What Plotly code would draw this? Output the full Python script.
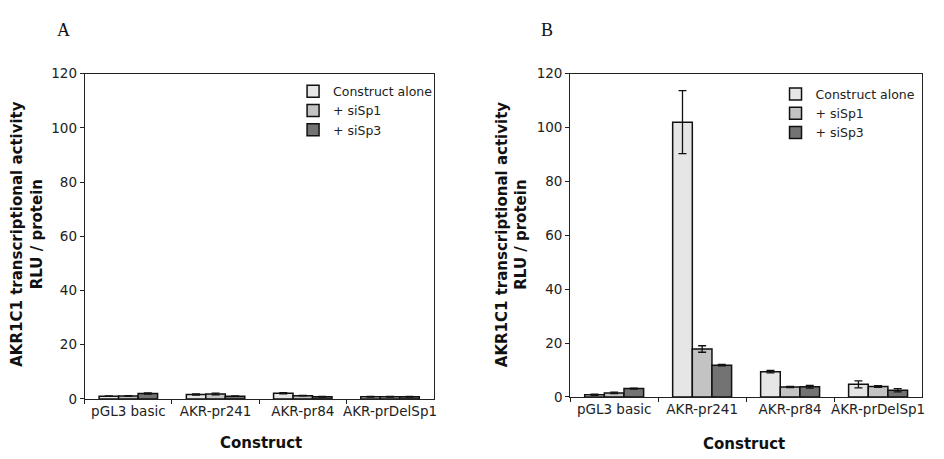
import plotly.graph_objects as go

constructs = ["pGL3 basic", "AKR-pr241", "AKR-pr84", "AKR-prDelSp1"]
series_names = ["Construct alone", "+ siSp1", "+ siSp3"]
series_colors = ["#e6e6e6", "#c3c3c3", "#737373"]

# Panel A: RLU / protein
a_alone = [1.0, 1.6, 2.1, 0.8]
a_sisp1 = [1.1, 1.8, 1.2, 0.8]
a_sisp3 = [2.0, 1.0, 0.8, 0.8]
a_alone_err = [0.1, 0.2, 0.2, 0.1]
a_sisp1_err = [0.1, 0.3, 0.1, 0.1]
a_sisp3_err = [0.2, 0.1, 0.1, 0.1]

# Panel B: RLU / protein
b_alone = [0.8, 102.0, 9.4, 4.7]
b_sisp1 = [1.5, 17.8, 3.7, 3.9]
b_sisp3 = [3.1, 11.8, 3.8, 2.5]
b_alone_err = [0.2, 11.7, 0.5, 1.3]
b_sisp1_err = [0.3, 1.2, 0.2, 0.3]
b_sisp3_err = [0.2, 0.3, 0.5, 0.6]

y_ticks = [0, 20, 40, 60, 80, 100, 120]

W, H = 944, 459
FONT = "DejaVu Sans"


def px_x(x):
    return x / W


def px_y(y):
    return 1 - y / H


fig = go.Figure()

panels = [
    ("x", "y", "legend", [a_alone, a_sisp1, a_sisp3], [a_alone_err, a_sisp1_err, a_sisp3_err]),
    ("x2", "y2", "legend2", [b_alone, b_sisp1, b_sisp3], [b_alone_err, b_sisp1_err, b_sisp3_err]),
]

for xa, ya, leg, values, errs in panels:
    for name, color, vals, err in zip(series_names, series_colors, values, errs):
        fig.add_trace(go.Bar(
            x=constructs, y=vals, name=name, xaxis=xa, yaxis=ya, legend=leg,
            marker=dict(color=color, line=dict(color="#111111", width=1.5)),
            error_y=dict(type="data", array=err, visible=True,
                         color="#111111", thickness=1.3, width=4),
            offsetgroup=name,
        ))

axis_common = dict(
    showline=True, linecolor="#222222", linewidth=1, mirror=True,
    ticks="outside", tickcolor="#222222", ticklen=4,
    showgrid=False, zeroline=False, tickangle=0,
    tickfont=dict(family=FONT, size=13.5, color="#222222"),
)

fig.update_layout(
    width=W, height=H,
    margin=dict(l=0, r=0, t=0, b=0),
    plot_bgcolor="white", paper_bgcolor="white",
    barmode="group", bargap=0.33, bargroupgap=0,
    font=dict(family=FONT, color="#222222"),
    xaxis=dict(domain=[px_x(85), px_x(435)], anchor="y",
               tickson="boundaries", **axis_common),
    yaxis=dict(domain=[px_y(405), px_y(68)], anchor="x", range=[0, 120],
               tickvals=y_ticks, **axis_common),
    xaxis2=dict(domain=[px_x(572), px_x(925)], anchor="y2",
                tickson="boundaries", **axis_common),
    yaxis2=dict(domain=[px_y(403), px_y(68)], anchor="x2", range=[0, 120],
                tickvals=y_ticks, **axis_common),
    legend=dict(x=px_x(294), y=px_y(71), xanchor="left", yanchor="top",
                bgcolor="rgba(0,0,0,0)", tracegroupgap=0,
                font=dict(family=FONT, size=12.5, color="#222222")),
    legend2=dict(x=px_x(778), y=px_y(74), xanchor="left", yanchor="top",
                 bgcolor="rgba(0,0,0,0)", tracegroupgap=0,
                 font=dict(family=FONT, size=12.5, color="#222222")),
)

title_font = dict(family=FONT, size=15, color="#111111")
ytitle = "<b>AKR1C1 transcriptional activity</b><br><b>RLU / protein</b>"

annotations = [
    dict(text="A", x=px_x(64), y=px_y(23), font=dict(family="Liberation Serif", size=18, color="#111111")),
    dict(text="B", x=px_x(549), y=px_y(23), font=dict(family="Liberation Serif", size=18, color="#111111")),
    dict(text=ytitle, x=px_x(27), y=px_y(234), textangle=-90, font=title_font),
    dict(text=ytitle, x=px_x(513), y=px_y(234), textangle=-90, font=title_font),
    dict(text="<b>Construct</b>", x=px_x(262), y=px_y(451), font=title_font),
    dict(text="<b>Construct</b>", x=px_x(746), y=px_y(452), font=title_font),
]
for ann in annotations:
    fig.add_annotation(xref="paper", yref="paper", showarrow=False,
                       xanchor="center", yanchor="middle", **ann)

fig.write_html("out.html")
